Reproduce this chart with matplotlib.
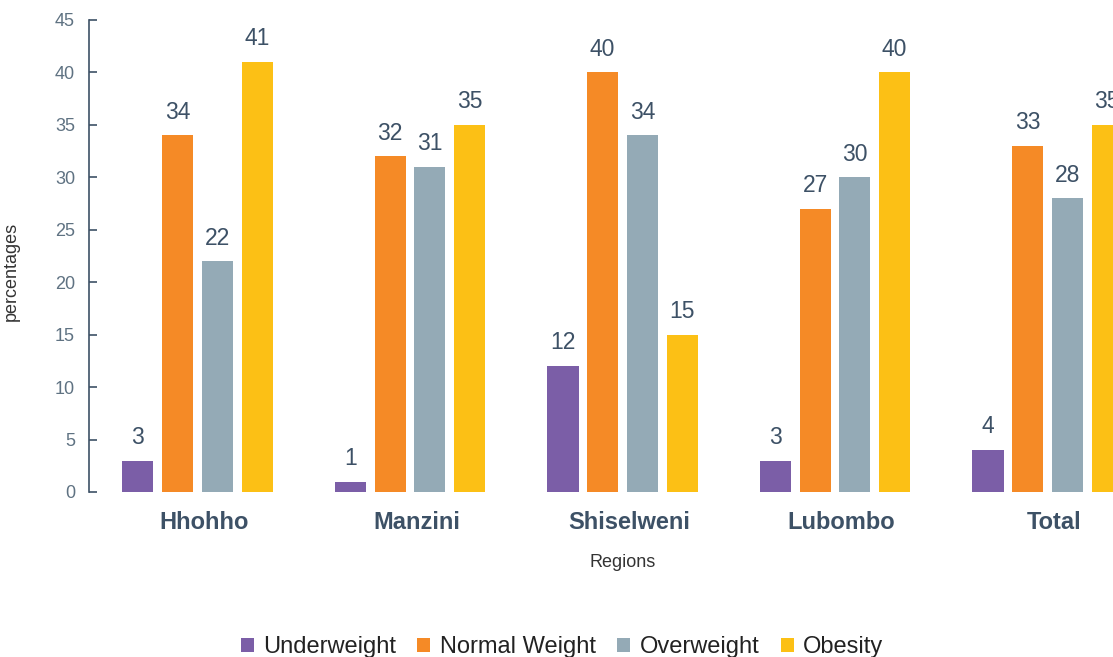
import matplotlib
matplotlib.use("Agg")
import matplotlib.pyplot as plt
import numpy as np

regions = ["Hhohho", "Manzini", "Shiselweni", "Lubombo", "Total"]
series_names = ["Underweight", "Normal Weight", "Overweight", "Obesity"]
underweight = [3, 1, 12, 3, 4]
normal_weight = [34, 32, 40, 27, 33]
overweight = [22, 31, 34, 30, 28]
obesity = [41, 35, 15, 40, 35]
yticks = [0, 5, 10, 15, 20, 25, 30, 35, 40, 45]

colors = ["#7b5ea7", "#f58a26", "#94aab6", "#fcc015"]
series = [underweight, normal_weight, overweight, obesity]

plt.rcParams['font.family'] = ['Liberation Sans', 'DejaVu Sans']

W, H = 1113, 657
fig = plt.figure(figsize=(W / 100, H / 100), dpi=100)
left_px, right_px, top_px, bot_px = 89, 1157, 20, 492
ax = fig.add_axes([left_px / W, 1 - bot_px / H, (right_px - left_px) / W, (bot_px - top_px) / H])

x = np.arange(len(regions))
step = 0.1868
width = 0.146
for k, (vals, name, c) in enumerate(zip(series, series_names, colors)):
    pos = x + (k - 1.5) * step
    bars = ax.bar(pos, vals, width=width, color=c, label=name, edgecolor='none')
    for p, v in zip(pos, vals):
        ax.annotate(f"{v}", (p, v), xytext=(0, 12), textcoords='offset points',
                    ha='center', va='baseline', fontsize=16.5, color='#3d5166')

ax.set_xlim(-0.5106, 4.515)
ax.set_ylim(0, 45)
ax.set_yticks(yticks)
ax.set_xticks(x + 0.03)
ax.set_xticklabels(regions, fontsize=17, fontweight='bold', color='#3d5166')
ax.tick_params(axis='x', length=0, pad=14)
ax.tick_params(axis='y', direction='in', length=6, width=1.2, color='#3d5166',
               labelsize=13, labelcolor='#5f7282', pad=10)

for s in ['top', 'right', 'bottom']:
    ax.spines[s].set_visible(False)
ax.spines['left'].set_color('#3d5166')
ax.spines['left'].set_linewidth(1.2)

ax.set_ylabel("percentages", fontsize=13, color='#333333')
ax.yaxis.set_label_coords(-0.0646, 0.468)
ax.set_xlabel("Regions", fontsize=13, color='#333333')
ax.xaxis.set_label_coords(0.5, -0.150)
ax.xaxis.label.set_va('center')

leg = fig.legend(loc='center', bbox_to_anchor=(562 / W, 1 - 647 / H), ncol=4,
                 frameon=False, fontsize=17, handlelength=0.55, handleheight=0.55,
                 handletextpad=0.4, columnspacing=0.9, labelcolor='#222222')

fig.savefig("out.png", dpi=100)
